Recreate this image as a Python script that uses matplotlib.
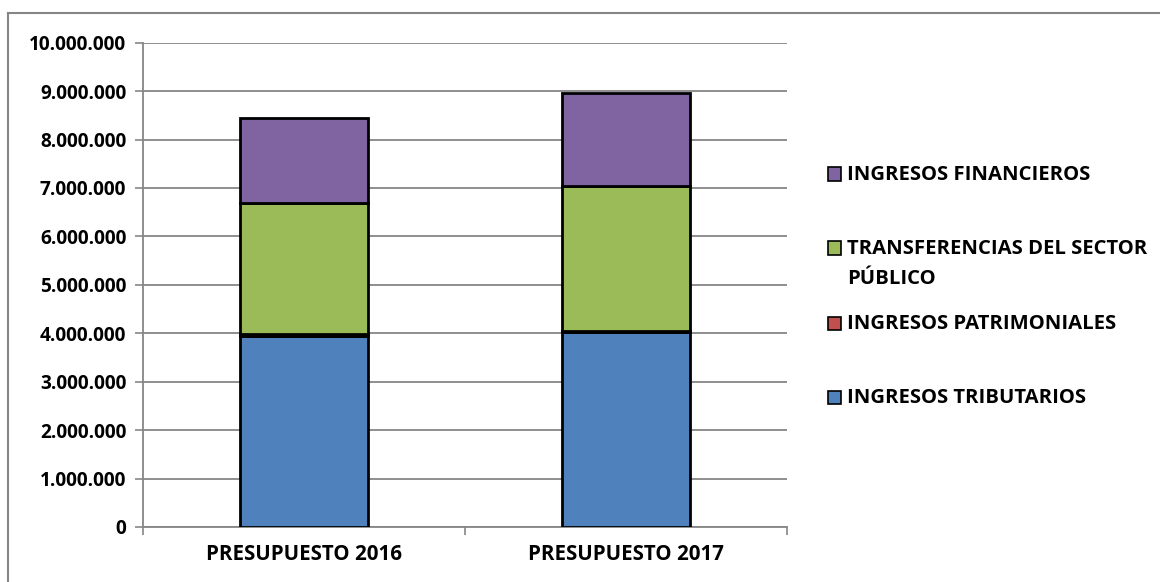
import matplotlib
matplotlib.use("Agg")
import matplotlib.pyplot as plt
from matplotlib.lines import Line2D
from matplotlib.ticker import FuncFormatter

categories = ["PRESUPUESTO 2016", "PRESUPUESTO 2017"]
series_names = ["INGRESOS TRIBUTARIOS", "INGRESOS PATRIMONIALES",
                "TRANSFERENCIAS DEL SECTOR\nPÚBLICO", "INGRESOS FINANCIEROS"]
tributarios = [3950000, 4020000]
patrimoniales = [30000, 30000]
transferencias = [2720000, 2990000]
financieros = [1740000, 1915000]
colors = ["#4F81BD", "#C0504D", "#9BBB59", "#8064A2"]

plt.rcParams['font.family'] = ['Open Sans', 'DejaVu Sans']
plt.rcParams['font.weight'] = 'bold'
FS_Y = 13.7
FS_X = 14.8
FS_L = 14.6

fig = plt.figure(figsize=(11.6, 5.82), dpi=100)
ax = fig.add_axes([143/1160, 1-527/582, (787-143)/1160, (527-42.7)/582])

series = [tributarios, patrimoniales, transferencias, financieros]
x = list(range(len(categories)))
bottom = [0]*len(categories)
for vals, c, name in zip(series, colors, series_names):
    ax.bar(x, vals, bottom=bottom, width=0.4, color=c, edgecolor='black',
           linewidth=2, label=name, zorder=3)
    bottom = [b+v for b, v in zip(bottom, vals)]

ax.set_xlim(-0.5, 1.5)
ax.set_ylim(0, 10000000)
ax.set_yticks(range(0, 10000001, 1000000))
ax.yaxis.set_major_formatter(FuncFormatter(lambda v, p: f"{int(v):,}".replace(",", ".")))
ax.set_xticks(x)
ax.set_xticklabels(categories, fontsize=FS_X, fontweight='bold')
ax.tick_params(axis='x', length=0, pad=12)
ax.set_xticks([-0.5, 0.5, 1.5], minor=True)
ax.tick_params(axis='x', which='minor', length=6, color='#868686', width=1.2)
ax.tick_params(axis='y', length=6, color='#868686', width=1.2, labelsize=FS_Y, pad=6)
for lbl in ax.get_yticklabels():
    lbl.set_fontweight('bold')
ax.grid(axis='y', color='#868686', linewidth=1.3, zorder=0)
for s in ['top', 'right']:
    ax.spines[s].set_visible(False)
ax.spines['left'].set_color('#868686')
ax.spines['bottom'].set_color('#868686')
ax.spines['left'].set_linewidth(1.3)
ax.spines['bottom'].set_linewidth(1.3)

# legend (manual placement, reversed order)
leg_y = [174, 248, 323, 397]
leg_items = list(zip(series_names, colors))[::-1]
for (name, c), yp in zip(leg_items, leg_y):
    fy = 1 - yp/582
    fig.patches.append(plt.Rectangle((828/1160, fy - 6.5/582), 13/1160, 13/582,
                                     transform=fig.transFigure, facecolor=c,
                                     edgecolor='black', linewidth=1.2))
    fig.text(847/1160, fy + 9/582, name, fontsize=FS_L, fontweight='bold', va='top',
             ha='left', linespacing=1.65)

# outer frame (left and top visible)
fig.add_artist(Line2D([8/1160, 8/1160], [0, 1-13/582], transform=fig.transFigure,
                      color='#868686', linewidth=1.5))
fig.add_artist(Line2D([8/1160, 1], [1-13/582, 1-13/582], transform=fig.transFigure,
                      color='#868686', linewidth=1.5))

fig.savefig("out.png", dpi=100)
